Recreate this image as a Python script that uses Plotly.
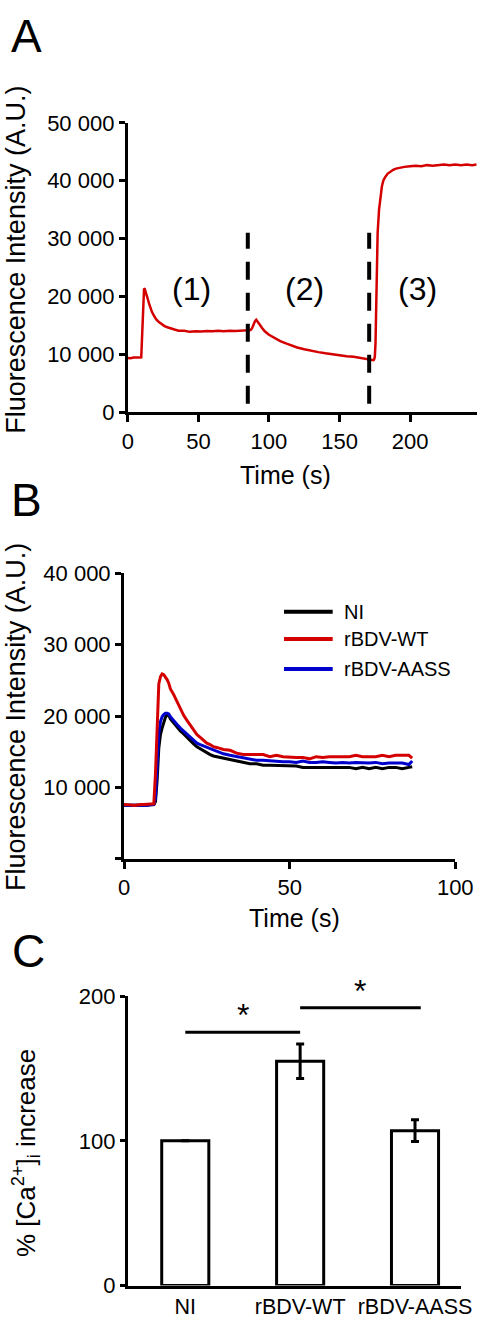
import plotly.graph_objects as go

W, H = 498, 1329
FONT = "Liberation Sans, Arial, sans-serif"
RED = "rgb(212,0,0)"
BLUE = "rgb(0,0,205)"
BLACK = "black"

# ---------------- Panel A data ----------------
tA = [0, 2, 4, 6, 8, 9.5, 10, 10.5, 11, 11.5, 12, 13, 14, 15, 16, 17, 18, 20, 22, 24,
      26, 28, 30, 33, 36, 40, 44, 48, 52, 56, 60, 64, 68, 72, 76, 80, 83, 85, 87, 88,
      89, 90, 91, 92, 93, 95, 97, 100, 104, 108, 112, 116, 120, 125, 130, 135, 140, 145,
      150, 155, 160, 165, 168, 170, 172, 173, 174, 174.5, 175, 175.5, 176, 176.5, 177,
      178, 179, 180, 181, 182, 184, 186, 188, 190, 193, 196, 200, 204, 208, 212, 216,
      220, 224, 228, 232, 236, 240, 244, 247]
fA = [9400, 9350, 9450, 9400, 9450, 9500, 13000, 17500, 20500, 21400, 21300, 20600, 19700,
      18800, 18000, 17400, 16900, 16100, 15600, 15200, 14900, 14700, 14500, 14300, 14100,
      14100, 13900, 14000, 13950, 14050, 14000, 14100, 14000, 14100, 14050, 14150, 14100,
      14200, 14200, 14500, 15200, 15700, 16000, 15700, 15300, 14600, 14000, 13400, 12800,
      12300, 11900, 11500, 11200, 10900, 10600, 10400, 10200, 10000, 9900, 9700, 9600,
      9400, 9300, 9200, 9100, 9000, 9000, 9100, 9600, 12000, 18000, 26000, 31000, 35000,
      37500, 39000, 40000, 40500, 41200, 41600, 41900, 42100, 42300, 42400, 42500, 42600,
      42500, 42700, 42600, 42700, 42800, 42700, 42800, 42700, 42800, 42700, 42800]
dash_times = [85, 171]
dash_span = [1500, 31000]
region_labels = ["(1)", "(2)", "(3)"]
region_x = [45, 125, 205]
region_y = 21300
A_xticks = [0, 50, 100, 150, 200]
A_yticks = [0, 10000, 20000, 30000, 40000, 50000]
A_yticktext = ["0", "10 000", "20 000", "30 000", "40 000", "50 000"]

# ---------------- Panel B data ----------------
tB = [0, 1, 2, 3, 4, 5, 6, 7, 8, 9,
      9.5, 10, 10.5, 11, 11.5, 12, 12.5, 13, 13.5,
      14, 15, 16, 17, 18, 19, 20, 21, 22, 23, 24, 25, 26, 27, 28, 29, 30,
      32, 34, 36, 38, 40, 42, 44, 46, 48, 50, 52, 54, 56, 58, 60, 62, 64, 66, 68, 70,
      72, 74, 76, 78, 80, 82, 84, 86, 87]
wt = [7600, 7600, 7550, 7450, 7550, 7600, 7600, 7600, 7650, 7700,
      12000, 19000, 24500, 25500, 25900, 25800, 25500, 25100, 24600,
      23800, 23000, 22000, 21000, 20100, 19400, 18700, 18000, 17400, 17000, 16600, 16200,
      16000, 15700, 15600, 15400, 15300,
      15200, 14800, 14600, 14600, 14500, 14600, 14300, 14500, 14300, 14200, 14200, 14200,
      14000, 14300, 14200, 14300, 14300, 14300, 14300, 14500, 14300, 14300, 14300, 14500,
      14300, 14500, 14500, 14500, 14100]
aass = [7500, 7500, 7450, 7400, 7450, 7500, 7500, 7500, 7550, 7600,
        8500, 13500, 17500, 19200, 19900, 20200, 20400, 20400, 20300,
        19900, 19300, 18800, 18300, 17900, 17400, 17000, 16600, 16200, 16000, 15800, 15600,
        15400, 15200, 15000, 14800, 14700,
        14500, 14300, 14100, 14000, 13800, 13800, 13700, 13700, 13600, 13600, 13500, 13700,
        13500, 13500, 13600, 13500, 13400, 13500, 13400, 13500, 13400, 13400, 13500, 13300,
        13400, 13400, 13400, 13200, 13700]
ni = [7500, 7500, 7450, 7400, 7450, 7500, 7500, 7500, 7550, 7600,
      8000, 11000, 15500, 17400, 18300, 19200, 19800, 20200, 20100,
      19600, 19000, 18400, 17900, 17500, 17000, 16500, 16100, 15700, 15400, 15100, 14800,
      14600, 14400, 14300, 14100, 14000,
      13900, 13700, 13400, 13300, 13300, 13100, 13100, 13100, 13000, 13000, 13000, 12800,
      12800, 12800, 12800, 12800, 12800, 12800, 12800, 12600, 12800, 12600, 12800, 12600,
      12800, 12800, 12600, 12800, 12900]
B_names = ["NI", "rBDV-WT", "rBDV-AASS"]
B_colors = [BLACK, RED, BLUE]
B_xticks = [0, 50, 100]
B_yticks = [10000, 20000, 30000, 40000]
B_yticktext = ["10 000", "20 000", "30 000", "40 000"]

# ---------------- Panel C data ----------------
groups = ["NI", "rBDV-WT", "rBDV-AASS"]
pct = [100, 155, 107]
pct_err = [0, 12, 7.5]
sig_pairs = [(0, 1, 175), (1, 2.05, 192)]
C_yticks = [0, 100, 200]


def px_x(x):
    return x / W


def px_y(y):
    return 1 - y / H


fig = go.Figure()

# Panel A
fig.add_trace(go.Scatter(x=tA, y=fA, mode="lines", line=dict(color=RED, width=2.5),
                         xaxis="x", yaxis="y", showlegend=False))
for t in dash_times:
    fig.add_trace(go.Scatter(x=[t, t], y=dash_span, mode="lines",
                             line=dict(color=BLACK, width=4, dash="18px,13px"),
                             xaxis="x", yaxis="y", showlegend=False))

# Panel B (draw black, blue, red)
for name, ys, col in [("NI", ni, BLACK), ("rBDV-AASS", aass, BLUE), ("rBDV-WT", wt, RED)]:
    fig.add_trace(go.Scatter(x=tB, y=ys, mode="lines", line=dict(color=col, width=3),
                             name=name, xaxis="x2", yaxis="y2", showlegend=False))

# Panel C
fig.add_trace(go.Bar(x=[0, 1, 2], y=pct, width=0.41,
                     marker=dict(color="white", line=dict(color=BLACK, width=3)),
                     error_y=dict(type="data", array=pct_err, color=BLACK, thickness=3, width=4),
                     xaxis="x3", yaxis="y3", showlegend=False))
for x0, x1, yv in sig_pairs:
    fig.add_trace(go.Scatter(x=[x0, x1], y=[yv, yv], mode="lines",
                             line=dict(color=BLACK, width=3),
                             xaxis="x3", yaxis="y3", showlegend=False))

ann = []
# panel letters
for letter, (cx, cy) in zip("ABC", [(22, 24), (22, 497), (24, 957)]):
    ann.append(dict(text=letter, x=px_x(cx), y=px_y(cy), xref="paper", yref="paper",
                    xanchor="center", yanchor="middle", showarrow=False,
                    font=dict(size=46, color=BLACK, family=FONT)))
# region labels
for lab, rx in zip(region_labels, region_x):
    ann.append(dict(text=lab, x=rx, y=region_y, xref="x", yref="y", showarrow=False,
                    xanchor="center", yanchor="middle",
                    font=dict(size=32, color=BLACK, family=FONT)))
# axis titles
ann.append(dict(text="Fluorescence Intensity (A.U.)", x=px_x(11), y=px_y(252), xref="paper",
                yref="paper", textangle=-90, showarrow=False, xanchor="center", yanchor="middle",
                font=dict(size=27, color=BLACK, family=FONT)))
ann.append(dict(text="Fluorescence Intensity (A.U.)", x=px_x(11), y=px_y(718), xref="paper",
                yref="paper", textangle=-90, showarrow=False, xanchor="center", yanchor="middle",
                font=dict(size=27, color=BLACK, family=FONT)))
ann.append(dict(text="% [Ca<sup>2+</sup>]<sub>i</sub> increase", x=px_x(21), y=px_y(1163),
                xref="paper", yref="paper", textangle=-90, showarrow=False,
                xanchor="center", yanchor="middle",
                font=dict(size=26, color=BLACK, family=FONT)))
ann.append(dict(text="Time (s)", x=px_x(294), y=px_y(472), xref="paper", yref="paper",
                showarrow=False, xanchor="center", yanchor="middle",
                font=dict(size=25, color=BLACK, family=FONT)))
ann.append(dict(text="Time (s)", x=px_x(303), y=px_y(923), xref="paper", yref="paper",
                showarrow=False, xanchor="center", yanchor="middle",
                font=dict(size=25, color=BLACK, family=FONT)))
# stars
for x0, x1, yv in sig_pairs:
    ann.append(dict(text="*", x=(x0 + x1) / 2, y=yv, xref="x3", yref="y3", showarrow=False,
                    xanchor="center", yanchor="bottom", yshift=-3,
                    font=dict(size=32, color=BLACK, family=FONT)))

# manual legend for panel B
shapes = []
leg_y = [34600, 30800, 26600]
for name, col, ly in zip(B_names, B_colors, leg_y):
    shapes.append(dict(type="line", xref="x2", yref="y2", x0=48.3, x1=63, y0=ly, y1=ly,
                       line=dict(color=col, width=4)))
    ann.append(dict(text=name, x=65.8, y=ly, xref="x2", yref="y2", showarrow=False,
                    xanchor="left", yanchor="middle",
                    font=dict(size=20, color=BLACK, family=FONT)))

axis_common = dict(showgrid=False, zeroline=False, showline=True, linecolor=BLACK,
                   linewidth=3, ticks="outside", tickcolor=BLACK, tickwidth=3,
                   tickfont=dict(size=22, color=BLACK, family=FONT))

fig.update_layout(
    width=W, height=H, margin=dict(l=0, r=0, t=0, b=0, pad=0),
    paper_bgcolor="white", plot_bgcolor="white",
    font=dict(family=FONT, color=BLACK),
    showlegend=False,
    xaxis=dict(axis_common, domain=[px_x(128), px_x(495)], range=[0, 247.5],
               tickvals=A_xticks, ticklen=7, anchor="y"),
    yaxis=dict(axis_common, domain=[px_y(408), px_y(113)], range=[0, 50000],
               tickvals=A_yticks, ticktext=A_yticktext, ticklen=6, anchor="x"),
    xaxis2=dict(axis_common, domain=[px_x(124), px_x(472)], range=[0, 100],
                tickvals=B_xticks, ticklen=7, anchor="y2"),
    yaxis2=dict(axis_common, domain=[px_y(863), px_y(572)], range=[0, 40000],
                tickvals=B_yticks, ticktext=B_yticktext, ticklen=6, anchor="x2",
                minor=dict(tickvals=[0], ticks="outside", ticklen=6, tickwidth=3,
                           tickcolor=BLACK, showgrid=False)),
    xaxis3=dict(axis_common, domain=[px_x(128), px_x(478)], range=[-0.5, 2.4],
                tickvals=[0, 1, 2], ticktext=groups, ticks="",
                tickfont=dict(size=21.5, color=BLACK, family=FONT), anchor="y3"),
    yaxis3=dict(axis_common, domain=[px_y(1298), px_y(1003)], range=[0, 200],
                tickvals=C_yticks, ticklen=5, anchor="x3"),
    annotations=ann,
    shapes=shapes,
)

fig.write_html(
    "out.html",
    config={"displayModeBar": False},
    post_script=(
        "document.documentElement.style.margin='0';"
        "document.body.style.margin='0';"
        "document.documentElement.style.overflow='hidden';"
        "document.body.style.overflow='hidden';"
    ),
)
